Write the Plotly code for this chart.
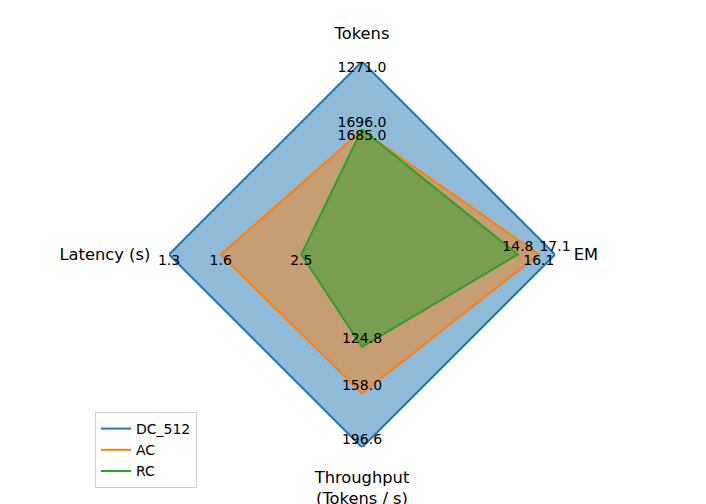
import plotly.graph_objects as go

# ---- data ----
categories = ["Tokens", "EM", "Throughput<br>(Tokens / s)", "Latency (s)"]
higher_is_better = [False, True, True, False]
series_names = ["DC_512", "AC", "RC"]
dc512 = [1271.0, 17.1, 196.6, 1.3]
ac = [1696.0, 16.1, 158.0, 1.6]
rc = [1685.0, 14.8, 124.8, 2.5]
series_values = [dc512, ac, rc]

colors = ["#1f77b4", "#ff7f0e", "#2ca02c"]
fills = ["rgba(31,119,180,0.5)", "rgba(255,127,14,0.5)", "rgba(44,160,44,0.5)"]
# label placement relative to vertex, per series / per axis
label_pos = [
    ["bottom center", "top center", "top center", "bottom center"],
    ["top center", "bottom center", "top center", "bottom center"],
    ["bottom center", "top center", "top center", "bottom center"],
]

# normalise: ratio to the best value on each axis
best = []
for i in range(len(categories)):
    col = [s[i] for s in series_values]
    best.append(max(col) if higher_is_better[i] else min(col))


def normalise(vals):
    out = []
    for i, v in enumerate(vals):
        out.append(v / best[i] if higher_is_better[i] else best[i] / v)
    return out


fig = go.Figure()
for name, vals, c, fc in zip(series_names, series_values, colors, fills):
    r = normalise(vals)
    rr = r + [r[0]]
    th = categories + [categories[0]]
    fig.add_trace(go.Scatterpolar(r=rr, theta=th, mode="lines", fill="toself",
                                  fillcolor=fc, line=dict(width=0, color=fc),
                                  showlegend=False, hoverinfo="skip"))
    fig.add_trace(go.Scatterpolar(r=rr, theta=th, mode="lines", name=name,
                                  line=dict(color=c, width=2)))

for name, vals, lp in zip(series_names, series_values, label_pos):
    r = normalise(vals)
    fig.add_trace(go.Scatterpolar(r=r, theta=categories, mode="text",
                                  text=[f"{v:.1f}" for v in vals],
                                  textposition=lp,
                                  textfont=dict(size=14, color="black", family="DejaVu Sans"),
                                  showlegend=False, hoverinfo="skip"))

W, H = 706, 504
OFF = 8  # page body margin
fig.update_layout(
    width=W, height=H,
    margin=dict(l=0, r=0, t=0, b=0),
    paper_bgcolor="white",
    font=dict(family="DejaVu Sans", color="black"),
    polar=dict(
        domain=dict(x=[(169 - OFF) / W, (555 - OFF) / W],
                    y=[1 - (447.5 - OFF) / H, 1 - (61.5 - OFF) / H]),
        bgcolor="rgba(0,0,0,0)",
        radialaxis=dict(visible=False, range=[0.3, 1.0]),
        angularaxis=dict(rotation=90, direction="clockwise", showgrid=False,
                         showline=False, ticks="outside", ticklen=15,
                         tickcolor="rgba(0,0,0,0)",
                         tickfont=dict(size=16.3, family="DejaVu Sans", color="black")),
    ),
    legend=dict(x=(95 - OFF) / W, y=1 - (488 - OFF) / H, xanchor="left", yanchor="bottom",
                bordercolor="#cccccc", borderwidth=1, bgcolor="white",
                font=dict(size=14, family="DejaVu Sans", color="black"),
                tracegroupgap=0),
)

fig.write_html("out.html")
